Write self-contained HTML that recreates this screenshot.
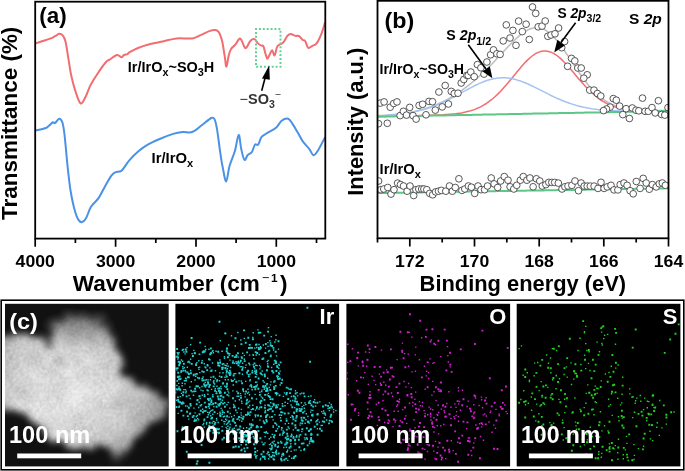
<!DOCTYPE html><html><head><meta charset="utf-8"><style>html,body{margin:0;padding:0;background:#fff;overflow:hidden}svg{display:block;will-change:transform}text{font-family:"Liberation Sans",sans-serif;font-weight:bold}</style></head><body><svg width="685" height="471" viewBox="0 0 685 471"><defs><clipPath id="ca"><rect x="35.2" y="1.7" width="290.1" height="236.9"/></clipPath><clipPath id="cb"><rect x="377.5" y="0.8" width="291" height="237.5"/></clipPath><clipPath id="cc"><rect x="5" y="303.8" width="163.7" height="162.6"/></clipPath><filter id="cloud" x="-15%" y="-15%" width="130%" height="130%"><feTurbulence type="fractalNoise" baseFrequency="0.09" numOctaves="3" seed="5" result="t"/><feDisplacementMap in="SourceGraphic" in2="t" scale="20" xChannelSelector="R" yChannelSelector="G" result="d"/><feGaussianBlur in="d" stdDeviation="3.9"/></filter><filter id="grain" x="0" y="0" width="100%" height="100%"><feTurbulence type="fractalNoise" baseFrequency="0.3" numOctaves="2" seed="9" result="n"/><feTurbulence type="fractalNoise" baseFrequency="0.045" numOctaves="2" seed="21" result="n2"/><feComposite in="n" in2="n2" operator="arithmetic" k1="0" k2="0.55" k3="0.6" k4="-0.05" result="nn"/><feColorMatrix in="nn" type="matrix" values="1 0 0 0 0  1 0 0 0 0  1 0 0 0 0  0 0 0 0 1" result="g"/><feComposite in="SourceGraphic" in2="g" operator="arithmetic" k1="0.75" k2="0.66" k3="0" k4="0"/></filter><radialGradient id="cg" gradientUnits="userSpaceOnUse" cx="65" cy="392" r="105"><stop offset="0" stop-color="#e4e4e4"/><stop offset="0.5" stop-color="#d0d0d0"/><stop offset="1" stop-color="#959595"/></radialGradient><linearGradient id="topdim" x1="0" y1="0" x2="0" y2="1"><stop offset="0.2" stop-color="#000" stop-opacity="0.5"/><stop offset="1" stop-color="#000" stop-opacity="0"/></linearGradient></defs><g clip-path="url(#ca)" fill="none" stroke-width="2" stroke-linejoin="round"><path d="M35.6 43.4 C37.1 42.9 42.1 41.3 44.5 40.5 C46.9 39.7 48.6 39.1 50.0 38.6 C51.4 38.1 52.1 37.8 53.1 37.3 C54.1 36.8 55.0 36.3 56.0 35.7 C57.0 35.1 57.8 33.9 58.9 33.8 C60.0 33.7 61.6 34.0 62.7 35.3 C63.8 36.6 64.5 37.6 65.5 41.5 C66.5 45.4 67.4 52.9 68.4 58.6 C69.4 64.3 70.0 70.1 71.3 75.8 C72.6 81.5 74.4 88.4 76.0 93.0 C77.6 97.6 79.2 102.9 80.8 103.5 C82.4 104.1 84.0 99.8 85.6 96.8 C87.2 93.8 88.3 89.4 90.4 85.4 C92.5 81.4 95.5 76.8 98.0 73.0 C100.5 69.2 103.6 64.8 105.6 62.5 C107.6 60.2 108.1 60.6 110.0 59.4 C111.9 58.1 115.1 55.4 117.0 55.0 C118.9 54.6 120.2 57.3 121.4 57.3 C122.6 57.3 123.0 55.5 124.0 55.0 C125.0 54.5 126.6 54.6 127.5 54.2 C128.4 53.8 127.6 53.4 129.3 52.4 C131.1 51.4 134.8 49.3 138.0 48.0 C141.2 46.7 144.4 45.6 148.5 44.5 C152.6 43.4 157.9 42.4 162.6 41.4 C167.3 40.4 171.6 38.9 176.6 38.4 C181.6 37.9 188.2 39.0 192.3 38.4 C196.4 37.8 198.2 36.1 201.1 34.9 C204.0 33.6 207.6 31.7 209.9 30.9 C212.2 30.1 213.7 29.9 215.1 30.0 C216.5 30.1 217.7 30.8 218.6 31.8 C219.5 32.8 220.0 34.2 220.6 36.0 C221.2 37.8 221.7 38.8 222.4 42.3 C223.1 45.8 224.1 52.7 224.8 56.8 C225.5 60.9 225.7 67.0 226.4 66.7 C227.1 66.4 228.0 58.1 228.8 55.1 C229.6 52.1 230.1 50.4 231.2 48.7 C232.3 47.0 234.0 46.4 235.3 44.7 C236.7 43.1 238.2 39.5 239.3 38.8 C240.4 38.1 240.8 39.2 241.7 40.7 C242.6 42.2 244.0 47.0 244.9 47.9 C245.8 48.8 246.4 47.5 247.3 46.3 C248.2 45.1 249.3 41.9 250.5 40.7 C251.7 39.5 253.3 38.7 254.5 39.1 C255.7 39.5 256.6 42.0 257.7 43.1 C258.8 44.2 260.1 45.0 261.0 45.5 C261.9 46.0 262.7 45.0 263.4 46.3 C264.1 47.6 264.7 51.4 265.4 53.5 C266.1 55.6 266.7 58.6 267.4 58.7 C268.1 58.8 269.0 55.7 269.8 54.3 C270.6 52.9 271.4 50.1 272.2 50.3 C273.0 50.5 273.8 56.0 274.6 55.5 C275.4 55.0 276.2 48.9 277.0 47.1 C277.8 45.3 278.3 45.5 279.4 44.7 C280.5 43.9 282.1 43.8 283.4 42.3 C284.7 40.8 286.2 37.3 287.4 35.9 C288.6 34.5 289.3 34.0 290.7 34.0 C292.1 34.0 294.2 35.6 295.5 35.9 C296.8 36.2 297.5 35.2 298.7 35.9 C299.9 36.6 301.6 39.0 302.7 39.9 C303.8 40.8 304.2 39.7 305.1 41.0 C306.0 42.3 307.1 47.1 308.3 47.9 C309.5 48.7 311.0 46.5 312.3 45.8 C313.6 45.1 314.9 45.5 316.4 43.6 C317.9 41.7 319.7 37.9 321.2 34.3 C322.7 30.7 324.5 24.2 325.2 22.2" stroke="#f26d70"/><path d="M35.6 130.6 C37.2 130.2 43.0 129.1 45.2 128.3 C47.4 127.5 47.7 126.8 49.0 125.8 C50.3 124.8 51.8 122.6 52.8 122.2 C53.8 121.8 54.0 123.6 54.9 123.2 C55.8 122.8 57.0 120.4 57.9 119.7 C58.8 119.0 59.2 118.4 60.0 118.9 C60.8 119.4 61.8 120.4 62.5 122.7 C63.2 125.0 63.7 128.2 64.3 132.9 C64.9 137.6 65.5 144.4 66.1 150.8 C66.7 157.2 67.3 164.3 68.1 171.1 C68.9 177.9 69.6 185.1 70.7 191.5 C71.8 197.9 73.2 204.7 74.5 209.4 C75.8 214.1 77.0 217.5 78.3 219.6 C79.6 221.7 80.8 222.3 82.1 222.1 C83.4 221.9 84.5 220.9 86.0 218.3 C87.5 215.8 88.9 210.2 91.0 206.8 C93.1 203.4 96.4 201.3 98.7 197.9 C101.0 194.5 102.9 190.1 105.0 186.4 C107.1 182.7 109.6 178.1 111.4 175.7 C113.2 173.3 114.0 172.9 115.7 172.1 C117.4 171.3 119.3 172.7 121.5 170.8 C123.7 168.9 126.2 163.9 129.1 160.6 C132.0 157.3 135.5 153.8 138.7 151.1 C141.9 148.4 144.7 146.4 148.2 144.4 C151.7 142.4 155.5 140.8 159.7 139.0 C163.8 137.2 169.3 135.1 173.1 133.9 C176.9 132.7 179.4 132.3 182.6 132.0 C185.8 131.7 189.0 133.1 192.2 132.0 C195.4 130.9 198.5 127.6 201.7 125.3 C204.9 123.0 209.1 119.0 211.3 118.0 C213.5 117.0 213.8 117.8 214.7 119.6 C215.6 121.4 216.1 124.0 217.0 129.1 C217.9 134.2 219.0 143.7 219.9 150.1 C220.8 156.5 221.6 162.1 222.7 167.3 C223.8 172.5 225.0 181.7 226.2 181.4 C227.3 181.2 228.1 170.9 229.6 165.8 C231.1 160.7 233.4 156.1 234.9 151.0 C236.4 145.9 237.6 135.4 238.7 135.0 C239.8 134.6 240.2 144.7 241.2 148.8 C242.1 153.0 243.3 158.8 244.4 159.9 C245.5 161.0 246.3 156.5 247.6 155.2 C248.8 153.9 250.7 153.8 251.9 152.0 C253.1 150.2 253.9 145.8 255.0 144.6 C256.1 143.4 257.1 145.8 258.2 144.6 C259.3 143.4 260.1 139.0 261.4 137.2 C262.6 135.4 264.1 135.1 265.7 134.0 C267.3 132.9 269.2 131.9 271.0 130.8 C272.8 129.7 274.5 129.3 276.3 127.6 C278.1 125.9 279.7 122.3 281.6 120.8 C283.6 119.3 286.2 118.3 288.0 118.7 C289.8 119.1 290.4 120.9 292.2 123.4 C294.0 126.0 296.8 131.0 298.6 134.0 C300.4 137.0 301.0 138.9 302.8 141.4 C304.6 143.9 307.4 146.5 309.2 148.8 C311.0 151.1 312.0 154.8 313.4 155.2 C314.8 155.6 315.8 154.0 317.7 151.0 C319.6 148.0 323.9 139.5 325.1 137.2" stroke="#4a92e6"/></g><rect x="256" y="29" width="24.5" height="37.8" fill="none" stroke="#66d196" stroke-width="2" stroke-dasharray="2 1.894" stroke-dashoffset="1"/><line x1="261.7" y1="90.7" x2="265.6" y2="76" stroke="#000" stroke-width="1.6"/><polygon points="269.2,65.6 262,78.6 269.8,79.8" fill="#000"/><rect x="35.2" y="1.7" width="290.1" height="236.9" fill="none" stroke="#000" stroke-width="1.8"/><path d="M35.2 238.6v8.2M75.4 238.6v4.5M115.6 238.6v8.2M155.8 238.6v4.5M196.0 238.6v8.2M236.1 238.6v4.5M276.3 238.6v8.2M316.5 238.6v4.5" stroke="#000" stroke-width="1.7"/><text transform="translate(35.20 266.90) scale(1.070 1)" font-size="16.5" text-anchor="middle">4000</text><text transform="translate(115.58 266.90) scale(1.070 1)" font-size="16.5" text-anchor="middle">3000</text><text transform="translate(195.96 266.90) scale(1.070 1)" font-size="16.5" text-anchor="middle">2000</text><text transform="translate(276.34 266.90) scale(1.070 1)" font-size="16.5" text-anchor="middle">1000</text><text transform="translate(72.80 291.30) scale(1.025 1)" font-size="22">Wavenumber (cm<tspan font-size="12.5" dy="-9" dx="1.8" font-weight="normal">&#8722;</tspan><tspan font-size="11.5" dx="1.9">1</tspan><tspan dy="9" dx="2.3">)</tspan></text><text transform="translate(17,123.3) rotate(-90) scale(1.02 1)" font-size="22" text-anchor="middle">Transmittance (%)</text><text transform="translate(39.20 23.00) scale(1.030 1)" font-size="21.8">(a)</text><text transform="translate(127.80 72.00) scale(1.035 1)" font-size="14">Ir/IrO<tspan font-size="10.5" dy="4.2">x</tspan><tspan dy="-4.2">~SO</tspan><tspan font-size="10.5" dy="4.2">3</tspan><tspan dy="-4.2">H</tspan></text><text transform="translate(151.60 162.90) scale(1.060 1)" font-size="14">Ir/IrO<tspan font-size="10.5" dy="4.2">x</tspan></text><text transform="translate(239.50 103.80)" font-size="14.5" fill="#333"><tspan font-weight="normal">&#8722;</tspan>SO<tspan font-size="10.5" dy="4.6">3</tspan><tspan font-size="10.5" dy="-10" font-weight="normal">&#8722;</tspan></text><g clip-path="url(#cb)"><g fill="none" stroke-width="1.5"><path d="M377.5 115.8 L379.5 115.6 L381.5 115.5 L383.5 115.4 L385.5 115.3 L387.5 115.1 L389.5 115.0 L391.5 114.8 L393.5 114.6 L395.5 114.4 L397.5 114.2 L399.5 114.0 L401.5 113.7 L403.5 113.5 L405.5 113.2 L407.5 112.8 L409.5 112.5 L411.5 112.1 L413.5 111.7 L415.5 111.3 L417.5 110.8 L419.5 110.3 L421.5 109.8 L423.5 109.3 L425.5 108.7 L427.5 108.0 L429.5 107.3 L431.5 106.6 L433.5 105.9 L435.5 105.1 L437.5 104.2 L439.5 103.3 L441.5 102.4 L443.5 101.4 L445.5 100.4 L447.5 99.3 L449.5 98.2 L451.5 97.0 L453.5 95.8 L455.5 94.6 L457.5 93.3 L459.5 92.0 L461.5 90.6 L463.5 89.2 L465.5 87.7 L467.5 86.2 L469.5 84.6 L471.5 83.0 L473.5 81.3 L475.5 79.6 L477.5 77.9 L479.5 76.1 L481.5 74.3 L483.5 72.4 L485.5 70.5 L487.5 68.5 L489.5 66.5 L491.5 64.4 L493.5 62.3 L495.5 60.2 L497.5 58.1 L499.5 55.9 L501.5 53.8 L503.5 51.6 L505.5 49.5 L507.5 47.3 L509.5 45.2 L511.5 43.2 L513.5 41.2 L515.5 39.2 L517.5 37.4 L519.5 35.7 L521.5 34.1 L523.5 32.6 L525.5 31.3 L527.5 30.2 L529.5 29.2 L531.5 28.5 L533.5 28.0 L535.5 27.7 L537.5 27.7 L539.5 28.0 L541.5 28.4 L543.5 29.2 L545.5 30.2 L547.5 31.5 L549.5 33.0 L551.5 34.8 L553.5 36.7 L555.5 38.9 L557.5 41.3 L559.5 43.9 L561.5 46.5 L563.5 49.3 L565.5 52.2 L567.5 55.2 L569.5 58.2 L571.5 61.3 L573.5 64.3 L575.5 67.3 L577.5 70.3 L579.5 73.2 L581.5 76.0 L583.5 78.8 L585.5 81.4 L587.5 84.0 L589.5 86.4 L591.5 88.7 L593.5 90.8 L595.5 92.8 L597.5 94.7 L599.5 96.4 L601.5 98.0 L603.5 99.5 L605.5 100.8 L607.5 102.0 L609.5 103.1 L611.5 104.1 L613.5 105.0 L615.5 105.8 L617.5 106.5 L619.5 107.1 L621.5 107.6 L623.5 108.1 L625.5 108.5 L627.5 108.9 L629.5 109.2 L631.5 109.4 L633.5 109.6 L635.5 109.8 L637.5 110.0 L639.5 110.1 L641.5 110.2 L643.5 110.3 L645.5 110.4 L647.5 110.4 L649.5 110.4 L651.5 110.5 L653.5 110.5 L655.5 110.5 L657.5 110.5 L659.5 110.5 L661.5 110.5 L663.5 110.5 L665.5 110.5 L667.5 110.4 L668.5 110.4" stroke="#bdbdbd"/><path d="M377.5 116.6 L379.5 116.5 L381.5 116.5 L383.5 116.4 L385.5 116.4 L387.5 116.3 L389.5 116.3 L391.5 116.3 L393.5 116.2 L395.5 116.2 L397.5 116.1 L399.5 116.1 L401.5 116.0 L403.5 116.0 L405.5 115.9 L407.5 115.9 L409.5 115.9 L411.5 115.8 L413.5 115.8 L415.5 115.7 L417.5 115.7 L419.5 115.6 L421.5 115.6 L423.5 115.5 L425.5 115.5 L427.5 115.4 L429.5 115.3 L431.5 115.3 L433.5 115.2 L435.5 115.1 L437.5 115.0 L439.5 115.0 L441.5 114.9 L443.5 114.8 L445.5 114.6 L447.5 114.5 L449.5 114.3 L451.5 114.2 L453.5 114.0 L455.5 113.8 L457.5 113.5 L459.5 113.2 L461.5 112.9 L463.5 112.5 L465.5 112.1 L467.5 111.6 L469.5 111.1 L471.5 110.5 L473.5 109.9 L475.5 109.1 L477.5 108.3 L479.5 107.4 L481.5 106.3 L483.5 105.2 L485.5 104.0 L487.5 102.7 L489.5 101.2 L491.5 99.7 L493.5 98.0 L495.5 96.2 L497.5 94.4 L499.5 92.4 L501.5 90.3 L503.5 88.1 L505.5 85.8 L507.5 83.5 L509.5 81.1 L511.5 78.7 L513.5 76.2 L515.5 73.7 L517.5 71.3 L519.5 68.9 L521.5 66.6 L523.5 64.3 L525.5 62.1 L527.5 60.1 L529.5 58.2 L531.5 56.5 L533.5 55.0 L535.5 53.7 L537.5 52.7 L539.5 51.9 L541.5 51.3 L543.5 51.0 L545.5 50.9 L547.5 51.2 L549.5 51.7 L551.5 52.4 L553.5 53.4 L555.5 54.6 L557.5 56.0 L559.5 57.6 L561.5 59.4 L563.5 61.4 L565.5 63.5 L567.5 65.7 L569.5 67.9 L571.5 70.2 L573.5 72.6 L575.5 75.0 L577.5 77.4 L579.5 79.7 L581.5 82.0 L583.5 84.3 L585.5 86.5 L587.5 88.6 L589.5 90.6 L591.5 92.5 L593.5 94.3 L595.5 96.0 L597.5 97.6 L599.5 99.1 L601.5 100.5 L603.5 101.7 L605.5 102.8 L607.5 103.9 L609.5 104.8 L611.5 105.7 L613.5 106.4 L615.5 107.1 L617.5 107.7 L619.5 108.2 L621.5 108.6 L623.5 109.0 L625.5 109.4 L627.5 109.6 L629.5 109.9 L631.5 110.1 L633.5 110.3 L635.5 110.4 L637.5 110.5 L639.5 110.6 L641.5 110.7 L643.5 110.8 L645.5 110.8 L647.5 110.8 L649.5 110.8 L651.5 110.9 L653.5 110.9 L655.5 110.9 L657.5 110.8 L659.5 110.8 L661.5 110.8 L663.5 110.8 L665.5 110.8 L667.5 110.7 L668.5 110.7" stroke="#f26d70"/><path d="M377.5 115.9 L379.5 115.8 L381.5 115.7 L383.5 115.6 L385.5 115.4 L387.5 115.3 L389.5 115.1 L391.5 115.0 L393.5 114.8 L395.5 114.6 L397.5 114.4 L399.5 114.2 L401.5 113.9 L403.5 113.7 L405.5 113.4 L407.5 113.1 L409.5 112.7 L411.5 112.4 L413.5 112.0 L415.5 111.5 L417.5 111.1 L419.5 110.6 L421.5 110.1 L423.5 109.5 L425.5 109.0 L427.5 108.3 L429.5 107.7 L431.5 107.0 L433.5 106.3 L435.5 105.5 L437.5 104.7 L439.5 103.8 L441.5 103.0 L443.5 102.1 L445.5 101.1 L447.5 100.1 L449.5 99.1 L451.5 98.1 L453.5 97.1 L455.5 96.0 L457.5 94.9 L459.5 93.8 L461.5 92.7 L463.5 91.6 L465.5 90.6 L467.5 89.5 L469.5 88.4 L471.5 87.3 L473.5 86.3 L475.5 85.3 L477.5 84.4 L479.5 83.4 L481.5 82.6 L483.5 81.8 L485.5 81.0 L487.5 80.3 L489.5 79.7 L491.5 79.2 L493.5 78.7 L495.5 78.4 L497.5 78.1 L499.5 77.9 L501.5 77.8 L503.5 77.8 L505.5 77.8 L507.5 78.0 L509.5 78.2 L511.5 78.6 L513.5 79.0 L515.5 79.5 L517.5 80.1 L519.5 80.7 L521.5 81.4 L523.5 82.2 L525.5 83.0 L527.5 83.8 L529.5 84.7 L531.5 85.7 L533.5 86.6 L535.5 87.6 L537.5 88.6 L539.5 89.6 L541.5 90.6 L543.5 91.7 L545.5 92.7 L547.5 93.7 L549.5 94.7 L551.5 95.7 L553.5 96.6 L555.5 97.6 L557.5 98.5 L559.5 99.3 L561.5 100.2 L563.5 101.0 L565.5 101.8 L567.5 102.5 L569.5 103.2 L571.5 103.9 L573.5 104.5 L575.5 105.1 L577.5 105.7 L579.5 106.2 L581.5 106.7 L583.5 107.2 L585.5 107.6 L587.5 108.0 L589.5 108.3 L591.5 108.7 L593.5 109.0 L595.5 109.2 L597.5 109.5 L599.5 109.7 L601.5 109.9 L603.5 110.1 L605.5 110.2 L607.5 110.4 L609.5 110.5 L611.5 110.6 L613.5 110.7 L615.5 110.8 L617.5 110.8 L619.5 110.9 L621.5 110.9 L623.5 111.0 L625.5 111.0 L627.5 111.0 L629.5 111.0 L631.5 111.1 L633.5 111.1 L635.5 111.1 L637.5 111.1 L639.5 111.0 L641.5 111.0 L643.5 111.0 L645.5 111.0 L647.5 111.0 L649.5 111.0 L651.5 110.9 L653.5 110.9 L655.5 110.9 L657.5 110.9 L659.5 110.8 L661.5 110.8 L663.5 110.8 L665.5 110.8 L667.5 110.7 L668.5 110.7" stroke="#a3c3f0"/><path d="M377.5 116.7 L379.5 116.7 L381.5 116.6 L383.5 116.6 L385.5 116.5 L387.5 116.5 L389.5 116.5 L391.5 116.4 L393.5 116.4 L395.5 116.3 L397.5 116.3 L399.5 116.3 L401.5 116.2 L403.5 116.2 L405.5 116.2 L407.5 116.1 L409.5 116.1 L411.5 116.0 L413.5 116.0 L415.5 116.0 L417.5 115.9 L419.5 115.9 L421.5 115.8 L423.5 115.8 L425.5 115.8 L427.5 115.7 L429.5 115.7 L431.5 115.6 L433.5 115.6 L435.5 115.6 L437.5 115.5 L439.5 115.5 L441.5 115.4 L443.5 115.4 L445.5 115.4 L447.5 115.3 L449.5 115.3 L451.5 115.3 L453.5 115.2 L455.5 115.2 L457.5 115.1 L459.5 115.1 L461.5 115.1 L463.5 115.0 L465.5 115.0 L467.5 114.9 L469.5 114.9 L471.5 114.9 L473.5 114.8 L475.5 114.8 L477.5 114.7 L479.5 114.7 L481.5 114.7 L483.5 114.6 L485.5 114.6 L487.5 114.5 L489.5 114.5 L491.5 114.5 L493.5 114.4 L495.5 114.4 L497.5 114.3 L499.5 114.3 L501.5 114.3 L503.5 114.2 L505.5 114.2 L507.5 114.2 L509.5 114.1 L511.5 114.1 L513.5 114.0 L515.5 114.0 L517.5 114.0 L519.5 113.9 L521.5 113.9 L523.5 113.8 L525.5 113.8 L527.5 113.8 L529.5 113.7 L531.5 113.7 L533.5 113.6 L535.5 113.6 L537.5 113.6 L539.5 113.5 L541.5 113.5 L543.5 113.4 L545.5 113.4 L547.5 113.4 L549.5 113.3 L551.5 113.3 L553.5 113.3 L555.5 113.2 L557.5 113.2 L559.5 113.1 L561.5 113.1 L563.5 113.1 L565.5 113.0 L567.5 113.0 L569.5 112.9 L571.5 112.9 L573.5 112.9 L575.5 112.8 L577.5 112.8 L579.5 112.7 L581.5 112.7 L583.5 112.7 L585.5 112.6 L587.5 112.6 L589.5 112.5 L591.5 112.5 L593.5 112.5 L595.5 112.4 L597.5 112.4 L599.5 112.4 L601.5 112.3 L603.5 112.3 L605.5 112.2 L607.5 112.2 L609.5 112.2 L611.5 112.1 L613.5 112.1 L615.5 112.0 L617.5 112.0 L619.5 112.0 L621.5 111.9 L623.5 111.9 L625.5 111.8 L627.5 111.8 L629.5 111.8 L631.5 111.7 L633.5 111.7 L635.5 111.6 L637.5 111.6 L639.5 111.6 L641.5 111.5 L643.5 111.5 L645.5 111.5 L647.5 111.4 L649.5 111.4 L651.5 111.3 L653.5 111.3 L655.5 111.3 L657.5 111.2 L659.5 111.2 L661.5 111.1 L663.5 111.1 L665.5 111.1 L667.5 111.0 L668.5 111.0" stroke="#5cc886" stroke-width="2"/><path d="M377.5 193.1 L379.5 193.1 L381.5 193.0 L383.5 193.0 L385.5 193.0 L387.5 192.9 L389.5 192.9 L391.5 192.9 L393.5 192.8 L395.5 192.8 L397.5 192.8 L399.5 192.7 L401.5 192.7 L403.5 192.7 L405.5 192.6 L407.5 192.6 L409.5 192.6 L411.5 192.5 L413.5 192.5 L415.5 192.5 L417.5 192.4 L419.5 192.4 L421.5 192.4 L423.5 192.3 L425.5 192.3 L427.5 192.3 L429.5 192.2 L431.5 192.2 L433.5 192.2 L435.5 192.1 L437.5 192.1 L439.5 192.1 L441.5 192.0 L443.5 192.0 L445.5 192.0 L447.5 191.9 L449.5 191.9 L451.5 191.9 L453.5 191.8 L455.5 191.8 L457.5 191.8 L459.5 191.7 L461.5 191.7 L463.5 191.7 L465.5 191.6 L467.5 191.6 L469.5 191.6 L471.5 191.5 L473.5 191.5 L475.5 191.5 L477.5 191.5 L479.5 191.4 L481.5 191.4 L483.5 191.4 L485.5 191.3 L487.5 191.3 L489.5 191.3 L491.5 191.2 L493.5 191.2 L495.5 191.2 L497.5 191.1 L499.5 191.1 L501.5 191.1 L503.5 191.0 L505.5 191.0 L507.5 191.0 L509.5 190.9 L511.5 190.9 L513.5 190.9 L515.5 190.8 L517.5 190.8 L519.5 190.8 L521.5 190.7 L523.5 190.7 L525.5 190.7 L527.5 190.6 L529.5 190.6 L531.5 190.6 L533.5 190.5 L535.5 190.5 L537.5 190.5 L539.5 190.4 L541.5 190.4 L543.5 190.4 L545.5 190.3 L547.5 190.3 L549.5 190.3 L551.5 190.2 L553.5 190.2 L555.5 190.2 L557.5 190.1 L559.5 190.1 L561.5 190.1 L563.5 190.0 L565.5 190.0 L567.5 190.0 L569.5 189.9 L571.5 189.9 L573.5 189.9 L575.5 189.8 L577.5 189.8 L579.5 189.8 L581.5 189.7 L583.5 189.7 L585.5 189.7 L587.5 189.6 L589.5 189.6 L591.5 189.6 L593.5 189.5 L595.5 189.5 L597.5 189.5 L599.5 189.4 L601.5 189.4 L603.5 189.4 L605.5 189.3 L607.5 189.3 L609.5 189.3 L611.5 189.2 L613.5 189.2 L615.5 189.2 L617.5 189.1 L619.5 189.1 L621.5 189.1 L623.5 189.0 L625.5 189.0 L627.5 189.0 L629.5 188.9 L631.5 188.9 L633.5 188.9 L635.5 188.8 L637.5 188.8 L639.5 188.8 L641.5 188.7 L643.5 188.7 L645.5 188.7 L647.5 188.6 L649.5 188.6 L651.5 188.6 L653.5 188.5 L655.5 188.5 L657.5 188.5 L659.5 188.4 L661.5 188.4 L663.5 188.4 L665.5 188.3 L667.5 188.3 L668.5 188.3" stroke="#5cc886" stroke-width="2"/></g><g fill="#fff" stroke="#3a3a3a" stroke-width="0.85"><circle cx="380.3" cy="103.1" r="3.35"/><circle cx="384.1" cy="101.9" r="3.35"/><circle cx="390.2" cy="107.2" r="3.35"/><circle cx="393.7" cy="103.5" r="3.35"/><circle cx="397.0" cy="101.9" r="3.35"/><circle cx="400.1" cy="115.6" r="3.35"/><circle cx="403.4" cy="111.3" r="3.35"/><circle cx="406.5" cy="115.1" r="3.35"/><circle cx="409.7" cy="107.4" r="3.35"/><circle cx="413.0" cy="115.6" r="3.35"/><circle cx="416.1" cy="119.1" r="3.35"/><circle cx="419.1" cy="105.4" r="3.35"/><circle cx="422.6" cy="104.3" r="3.35"/><circle cx="426.0" cy="114.8" r="3.35"/><circle cx="429.0" cy="101.4" r="3.35"/><circle cx="432.5" cy="101.7" r="3.35"/><circle cx="435.3" cy="110.1" r="3.35"/><circle cx="438.9" cy="92.0" r="3.35"/><circle cx="442.2" cy="106.9" r="3.35"/><circle cx="445.2" cy="85.5" r="3.35"/><circle cx="448.4" cy="104.0" r="3.35"/><circle cx="451.3" cy="91.4" r="3.35"/><circle cx="454.3" cy="93.5" r="3.35"/><circle cx="458.0" cy="93.2" r="3.35"/><circle cx="378.5" cy="123.7" r="3.35"/><circle cx="387.3" cy="123.3" r="3.35"/><circle cx="461.2" cy="83.0" r="3.35"/><circle cx="463.8" cy="79.5" r="3.35"/><circle cx="466.8" cy="75.4" r="3.35"/><circle cx="468.2" cy="75.4" r="3.35"/><circle cx="470.8" cy="72.0" r="3.35"/><circle cx="474.2" cy="76.7" r="3.35"/><circle cx="477.4" cy="64.6" r="3.35"/><circle cx="480.9" cy="67.8" r="3.35"/><circle cx="484.0" cy="74.1" r="3.35"/><circle cx="486.9" cy="62.0" r="3.35"/><circle cx="490.6" cy="54.8" r="3.35"/><circle cx="493.5" cy="49.9" r="3.35"/><circle cx="496.9" cy="53.8" r="3.35"/><circle cx="500.1" cy="54.4" r="3.35"/><circle cx="506.3" cy="24.9" r="3.35"/><circle cx="512.9" cy="30.4" r="3.35"/><circle cx="518.6" cy="21.1" r="3.35"/><circle cx="510.0" cy="38.0" r="3.35"/><circle cx="503.2" cy="40.9" r="3.35"/><circle cx="516.0" cy="45.3" r="3.35"/><circle cx="526.1" cy="24.2" r="3.35"/><circle cx="522.3" cy="31.6" r="3.35"/><circle cx="529.3" cy="39.5" r="3.35"/><circle cx="532.5" cy="7.0" r="3.35"/><circle cx="535.7" cy="13.4" r="3.35"/><circle cx="538.2" cy="26.8" r="3.35"/><circle cx="542.0" cy="26.1" r="3.35"/><circle cx="545.2" cy="21.0" r="3.35"/><circle cx="547.8" cy="36.3" r="3.35"/><circle cx="551.0" cy="35.0" r="3.35"/><circle cx="555.0" cy="33.8" r="3.35"/><circle cx="558.6" cy="28.0" r="3.35"/><circle cx="564.6" cy="41.5" r="3.35"/><circle cx="561.7" cy="47.7" r="3.35"/><circle cx="571.5" cy="58.4" r="3.35"/><circle cx="574.8" cy="60.9" r="3.35"/><circle cx="567.6" cy="66.3" r="3.35"/><circle cx="577.8" cy="68.0" r="3.35"/><circle cx="581.2" cy="68.0" r="3.35"/><circle cx="587.2" cy="74.8" r="3.35"/><circle cx="583.8" cy="78.2" r="3.35"/><circle cx="589.7" cy="90.1" r="3.35"/><circle cx="594.0" cy="90.1" r="3.35"/><circle cx="597.4" cy="93.5" r="3.35"/><circle cx="600.8" cy="96.0" r="3.35"/><circle cx="613.3" cy="98.6" r="3.35"/><circle cx="616.3" cy="100.2" r="3.35"/><circle cx="619.6" cy="106.1" r="3.35"/><circle cx="610.1" cy="107.1" r="3.35"/><circle cx="606.5" cy="109.0" r="3.35"/><circle cx="603.5" cy="110.6" r="3.35"/><circle cx="626.1" cy="108.7" r="3.35"/><circle cx="622.8" cy="114.6" r="3.35"/><circle cx="629.4" cy="118.5" r="3.35"/><circle cx="632.3" cy="108.0" r="3.35"/><circle cx="636.0" cy="110.2" r="3.35"/><circle cx="638.8" cy="110.8" r="3.35"/><circle cx="642.5" cy="98.1" r="3.35"/><circle cx="645.1" cy="111.3" r="3.35"/><circle cx="648.3" cy="111.3" r="3.35"/><circle cx="652.0" cy="107.6" r="3.35"/><circle cx="655.2" cy="112.9" r="3.35"/><circle cx="658.4" cy="100.7" r="3.35"/><circle cx="661.6" cy="114.5" r="3.35"/><circle cx="664.8" cy="115.1" r="3.35"/><circle cx="668.0" cy="107.6" r="3.35"/><circle cx="378.6" cy="181.0" r="3.35"/><circle cx="380.8" cy="189.7" r="3.35"/><circle cx="383.8" cy="189.0" r="3.35"/><circle cx="387.8" cy="187.5" r="3.35"/><circle cx="391.0" cy="194.1" r="3.35"/><circle cx="394.0" cy="189.7" r="3.35"/><circle cx="397.6" cy="183.1" r="3.35"/><circle cx="400.5" cy="184.6" r="3.35"/><circle cx="403.5" cy="186.0" r="3.35"/><circle cx="407.1" cy="191.2" r="3.35"/><circle cx="410.0" cy="186.0" r="3.35"/><circle cx="413.7" cy="195.5" r="3.35"/><circle cx="415.9" cy="189.7" r="3.35"/><circle cx="418.8" cy="189.0" r="3.35"/><circle cx="421.7" cy="189.0" r="3.35"/><circle cx="423.9" cy="189.0" r="3.35"/><circle cx="426.8" cy="189.7" r="3.35"/><circle cx="429.7" cy="193.4" r="3.35"/><circle cx="432.7" cy="194.8" r="3.35"/><circle cx="435.6" cy="191.9" r="3.35"/><circle cx="438.5" cy="191.2" r="3.35"/><circle cx="441.4" cy="190.4" r="3.35"/><circle cx="445.8" cy="191.2" r="3.35"/><circle cx="449.5" cy="186.0" r="3.35"/><circle cx="452.4" cy="191.2" r="3.35"/><circle cx="455.3" cy="187.5" r="3.35"/><circle cx="458.9" cy="178.8" r="3.35"/><circle cx="461.9" cy="190.4" r="3.35"/><circle cx="464.8" cy="189.0" r="3.35"/><circle cx="468.4" cy="186.0" r="3.35"/><circle cx="471.4" cy="187.2" r="3.35"/><circle cx="474.7" cy="193.4" r="3.35"/><circle cx="478.0" cy="186.0" r="3.35"/><circle cx="481.0" cy="189.7" r="3.35"/><circle cx="484.6" cy="189.7" r="3.35"/><circle cx="487.5" cy="186.0" r="3.35"/><circle cx="491.2" cy="178.0" r="3.35"/><circle cx="494.1" cy="183.9" r="3.35"/><circle cx="497.7" cy="187.5" r="3.35"/><circle cx="500.7" cy="181.0" r="3.35"/><circle cx="504.3" cy="176.6" r="3.35"/><circle cx="508.0" cy="180.2" r="3.35"/><circle cx="510.1" cy="186.8" r="3.35"/><circle cx="513.8" cy="189.0" r="3.35"/><circle cx="516.7" cy="185.3" r="3.35"/><circle cx="520.4" cy="180.2" r="3.35"/><circle cx="523.3" cy="176.6" r="3.35"/><circle cx="526.9" cy="180.2" r="3.35"/><circle cx="529.9" cy="178.0" r="3.35"/><circle cx="533.1" cy="186.8" r="3.35"/><circle cx="536.4" cy="178.8" r="3.35"/><circle cx="539.8" cy="181.0" r="3.35"/><circle cx="542.3" cy="186.0" r="3.35"/><circle cx="545.9" cy="184.6" r="3.35"/><circle cx="548.8" cy="182.4" r="3.35"/><circle cx="551.8" cy="182.4" r="3.35"/><circle cx="554.7" cy="182.4" r="3.35"/><circle cx="558.3" cy="183.1" r="3.35"/><circle cx="562.0" cy="189.0" r="3.35"/><circle cx="564.9" cy="186.8" r="3.35"/><circle cx="568.0" cy="186.0" r="3.35"/><circle cx="571.9" cy="185.3" r="3.35"/><circle cx="575.0" cy="181.0" r="3.35"/><circle cx="578.5" cy="190.7" r="3.35"/><circle cx="581.1" cy="183.0" r="3.35"/><circle cx="584.2" cy="186.1" r="3.35"/><circle cx="587.2" cy="186.1" r="3.35"/><circle cx="590.3" cy="186.1" r="3.35"/><circle cx="594.1" cy="186.1" r="3.35"/><circle cx="598.0" cy="188.4" r="3.35"/><circle cx="601.0" cy="182.3" r="3.35"/><circle cx="604.1" cy="188.4" r="3.35"/><circle cx="607.2" cy="186.9" r="3.35"/><circle cx="611.0" cy="185.3" r="3.35"/><circle cx="614.0" cy="189.9" r="3.35"/><circle cx="617.9" cy="189.9" r="3.35"/><circle cx="620.2" cy="184.6" r="3.35"/><circle cx="624.0" cy="183.0" r="3.35"/><circle cx="627.1" cy="185.3" r="3.35"/><circle cx="630.1" cy="190.7" r="3.35"/><circle cx="633.2" cy="193.8" r="3.35"/><circle cx="636.3" cy="181.5" r="3.35"/><circle cx="640.1" cy="188.4" r="3.35"/><circle cx="643.2" cy="178.4" r="3.35"/><circle cx="646.2" cy="183.0" r="3.35"/><circle cx="649.3" cy="189.2" r="3.35"/><circle cx="652.4" cy="184.6" r="3.35"/><circle cx="656.2" cy="186.9" r="3.35"/><circle cx="659.3" cy="183.8" r="3.35"/><circle cx="662.3" cy="183.0" r="3.35"/><circle cx="665.4" cy="185.3" r="3.35"/></g></g><rect x="377.5" y="0.8" width="291" height="237.5" fill="none" stroke="#000" stroke-width="1.8"/><path d="M377.5 238.3v4.2M409.8 238.3v8.2M442.2 238.3v4.2M474.5 238.3v8.2M506.8 238.3v4.2M539.2 238.3v8.2M571.5 238.3v4.2M603.8 238.3v8.2M636.2 238.3v4.2M668.5 238.3v8.2" stroke="#000" stroke-width="1.7"/><text transform="translate(409.83 266.90) scale(1.070 1)" font-size="16.5" text-anchor="middle">172</text><text transform="translate(474.50 266.90) scale(1.070 1)" font-size="16.5" text-anchor="middle">170</text><text transform="translate(539.17 266.90) scale(1.070 1)" font-size="16.5" text-anchor="middle">168</text><text transform="translate(603.83 266.90) scale(1.070 1)" font-size="16.5" text-anchor="middle">166</text><text transform="translate(668.50 266.90) scale(1.070 1)" font-size="16.5" text-anchor="middle">164</text><text transform="translate(522.80 291.00) scale(1.017 1)" font-size="21.5" text-anchor="middle">Binding energy (eV)</text><text transform="translate(362.7,121.8) rotate(-90) scale(1.02 1)" font-size="21.4" text-anchor="middle">Intensity (a.u.)</text><text transform="translate(384.60 28.40) scale(1.030 1)" font-size="22.6">(b)</text><text transform="translate(379.60 74.00) scale(1.010 1)" font-size="14">Ir/IrO<tspan font-size="10.5" dy="4.2">x</tspan><tspan dy="-4.2">~SO</tspan><tspan font-size="10.5" dy="4.2">3</tspan><tspan dy="-4.2">H</tspan></text><text transform="translate(379.60 173.80) scale(1.050 1)" font-size="14">Ir/IrO<tspan font-size="10.5" dy="4.2">x</tspan></text><text transform="translate(446.30 40.40) scale(1.030 1)" font-size="13.8">S <tspan font-style="italic">2p</tspan><tspan font-size="10.5" dy="4.2">1/2</tspan></text><text transform="translate(557.40 18.10)" font-size="13.8">S <tspan font-style="italic">2p</tspan><tspan font-size="10.5" dy="4.2">3/2</tspan></text><text transform="translate(629.00 23.60)" font-size="15.5">S <tspan font-style="italic">2p</tspan></text><line x1="468.3" y1="44.8" x2="486" y2="69" stroke="#000" stroke-width="1.6"/><polygon points="492.4,78.2 482.6,71.5 489.8,66.3" fill="#000"/><line x1="575.6" y1="22.8" x2="561" y2="42.5" stroke="#000" stroke-width="1.6"/><polygon points="554.2,52.6 557.4,39.8 564.8,45.4" fill="#000"/><rect x="1.2" y="300.2" width="682.6" height="169.6" fill="#fff" stroke="#000" stroke-width="1.6"/><rect x="5" y="303.8" width="163.7" height="162.6" fill="#111"/><mask id="cm" maskUnits="userSpaceOnUse" x="5" y="303.8" width="163.7" height="162.6"><g filter="url(#cloud)"><polygon points="5.0,334.0 20.0,335.0 35.0,337.8 42.0,340.0 46.0,345.0 50.0,340.0 51.0,330.0 54.3,324.0 62.0,318.0 74.3,315.0 85.3,317.7 97.8,318.6 105.0,325.9 112.4,340.5 117.0,351.4 121.5,358.7 124.2,373.3 132.0,381.0 146.0,387.4 157.0,391.0 166.3,398.5 169.0,404.0 162.6,415.0 153.4,422.5 146.0,428.0 138.6,437.3 131.2,444.7 123.8,448.4 118.3,451.2 109.0,448.4 99.8,446.5 90.0,444.7 85.0,444.0 69.7,448.4 56.8,441.0 42.0,428.0 23.5,417.0 5.0,407.7 -5.0,407.0 -5.0,334.0" fill="#fff"/><ellipse cx="57" cy="359" rx="3.5" ry="5" fill="#000" opacity="0.55"/><ellipse cx="49" cy="343" rx="5" ry="6" fill="#000" opacity="0.5"/><rect x="40" y="300" width="80" height="50" fill="url(#topdim)"/><ellipse cx="118" cy="456" rx="9" ry="6" fill="#fff" opacity="0.3"/></g></mask><rect x="5" y="303.8" width="163.7" height="162.6" fill="url(#cg)" filter="url(#grain)" mask="url(#cm)"/><rect x="175.4" y="303.8" width="163.7" height="162.6" fill="#000"/><path d="M249.5 394.8h0M251.6 386.3h0M205.6 387.0h0M307.9 416.5h0M282.4 403.8h0M177.9 389.7h0M180.3 379.2h0M280.2 385.0h0M213.0 350.8h0M187.4 406.1h0M204.5 394.7h0M206.6 422.7h0M244.3 338.4h0M209.9 367.9h0M217.7 429.4h0M190.2 398.5h0M273.8 364.2h0M269.5 444.6h0M206.5 424.0h0M319.8 401.9h0M310.2 400.7h0M204.1 420.9h0M212.8 394.7h0M219.5 376.2h0M204.3 363.7h0M196.9 362.6h0M335.9 410.6h0M324.4 417.7h0M178.9 407.2h0M264.8 423.6h0M296.1 418.1h0M287.6 450.2h0M243.7 432.3h0M269.2 405.4h0M270.8 402.7h0M319.4 422.1h0M295.7 398.2h0M273.8 382.0h0M276.0 453.4h0M177.3 352.7h0M323.7 411.0h0M245.9 434.8h0M270.9 355.2h0M256.7 439.8h0M291.8 458.2h0M203.1 377.0h0M210.4 371.1h0M256.2 355.0h0M291.4 396.5h0M197.6 377.7h0M278.4 376.4h0M282.6 435.0h0M253.2 332.8h0M252.7 419.9h0M220.0 360.0h0M260.6 403.6h0M239.8 432.5h0M249.6 405.5h0M237.1 396.2h0M251.3 409.6h0M293.6 436.8h0M247.6 393.2h0M230.2 431.8h0M199.7 387.7h0M312.9 415.8h0M256.0 458.0h0M211.6 389.4h0M294.7 407.6h0M226.4 365.7h0M261.2 396.9h0M263.1 385.6h0M259.9 368.9h0M267.5 383.6h0M186.2 391.3h0M219.5 380.7h0M246.4 436.4h0M253.4 355.3h0M276.5 454.2h0M233.6 404.5h0M259.0 344.5h0M262.2 374.8h0M243.1 389.8h0M208.8 406.4h0M262.1 442.1h0M296.7 435.5h0M214.6 421.9h0M244.4 432.2h0M241.3 415.1h0M208.3 414.7h0M258.2 427.0h0M181.5 393.4h0M268.5 327.6h0M251.8 387.5h0M290.2 441.0h0M249.7 423.9h0M290.8 443.7h0M241.6 401.2h0M297.3 430.2h0M241.8 449.5h0M289.1 428.5h0M241.8 421.2h0M231.3 380.0h0M233.6 407.6h0M283.4 396.4h0M280.5 417.8h0M276.1 423.9h0M207.4 364.8h0M265.4 386.3h0M279.8 435.3h0M273.2 427.2h0M261.6 400.9h0M222.2 410.3h0M221.8 420.2h0M322.3 425.4h0M245.7 381.4h0M215.3 388.8h0M277.6 377.8h0M183.9 389.6h0M247.9 412.3h0M218.3 398.4h0M303.8 405.4h0M219.8 415.1h0M272.3 406.7h0M219.8 372.9h0M192.2 391.8h0M189.6 413.7h0M278.7 364.4h0M209.9 359.7h0M277.5 428.7h0M235.8 410.0h0M228.7 392.9h0M189.0 395.5h0M210.3 411.4h0M225.1 421.6h0M234.0 421.8h0M194.6 419.1h0M227.4 368.7h0M234.6 363.2h0M240.2 366.8h0M267.7 433.3h0M204.3 427.1h0M259.8 392.2h0M333.6 409.6h0M185.9 392.7h0M296.1 449.9h0M297.5 409.3h0M211.5 428.2h0M263.4 421.0h0M310.7 412.1h0M307.3 439.3h0M332.2 407.8h0M291.6 434.2h0M185.1 353.9h0M281.5 429.9h0M185.6 378.3h0M292.8 400.5h0M205.7 349.5h0M265.1 436.6h0M265.0 459.3h0M177.2 380.6h0M305.8 419.7h0M259.9 407.3h0M219.0 390.7h0M309.9 441.3h0M191.3 381.8h0M264.3 389.2h0M225.4 379.7h0M234.3 415.5h0M311.2 410.1h0M237.1 419.2h0M267.7 378.2h0M209.2 403.9h0M236.9 391.5h0M230.6 367.5h0M286.3 418.9h0M241.3 439.8h0M259.1 409.0h0M229.7 370.8h0M241.0 417.5h0M304.7 411.1h0M178.4 357.6h0M310.5 403.2h0M300.9 450.5h0M233.1 385.1h0M259.9 420.1h0M269.8 417.1h0M267.2 394.9h0M309.2 401.5h0M269.3 438.8h0M285.3 423.7h0M272.3 434.4h0M208.1 379.9h0M238.7 396.3h0M260.5 346.6h0M229.8 408.1h0M252.3 370.7h0M288.2 427.0h0M242.4 374.3h0M261.3 374.0h0M294.2 450.1h0M273.2 426.0h0M195.8 376.4h0M289.2 389.3h0M225.5 368.1h0M333.6 412.0h0M244.4 434.7h0M297.6 395.9h0M195.7 391.2h0M224.4 356.6h0M240.4 361.7h0M257.0 455.6h0M252.8 337.4h0M233.4 380.6h0M208.5 406.6h0M317.8 419.7h0M289.3 456.2h0M225.7 419.3h0M284.2 432.3h0M283.8 447.5h0M261.9 390.1h0M273.6 350.0h0M222.1 426.6h0M221.1 392.9h0M180.9 378.8h0M283.2 431.0h0M258.2 441.2h0M260.6 458.4h0M274.9 342.0h0M301.9 431.6h0M214.0 383.3h0M270.4 384.9h0M273.1 419.9h0M256.6 374.4h0M218.4 433.6h0M264.3 432.4h0M199.3 354.3h0M226.9 404.7h0M218.7 399.5h0M288.5 438.8h0M185.4 370.5h0M182.3 383.3h0M249.9 424.9h0M198.6 367.6h0M300.3 423.1h0M216.9 393.5h0M251.0 455.3h0M241.4 409.4h0M231.6 416.7h0M272.1 447.8h0M239.7 440.8h0M210.5 379.8h0M286.6 444.0h0M205.2 346.4h0M326.6 420.0h0M234.3 428.2h0M228.1 366.3h0M184.4 367.8h0M226.5 372.7h0M197.7 418.6h0M294.2 412.1h0M208.9 349.4h0M241.7 366.6h0M212.4 351.3h0M179.4 406.2h0M224.2 412.8h0M210.8 415.8h0M213.8 406.6h0M245.4 367.6h0M238.2 357.1h0M241.3 381.0h0M190.6 359.3h0M200.1 398.5h0M266.0 417.6h0M239.5 363.0h0M256.5 399.0h0M228.7 345.0h0M268.0 346.4h0M205.8 380.1h0M269.7 456.9h0M278.1 404.7h0M197.6 386.2h0M212.8 414.3h0M175.6 392.2h0M214.6 384.0h0M265.1 405.3h0M230.0 360.1h0M226.7 420.1h0M287.8 460.4h0M201.5 404.8h0M267.7 363.8h0M249.3 429.3h0M217.0 386.3h0M239.6 420.1h0M230.0 427.2h0M311.0 396.0h0M291.1 405.0h0M237.1 412.6h0M271.3 456.7h0M197.3 415.5h0M278.8 368.3h0M182.3 350.3h0M264.2 382.3h0M226.0 433.9h0M221.8 367.4h0M239.1 416.6h0M220.3 340.8h0M235.3 346.0h0M205.3 382.4h0M254.7 371.2h0M265.5 410.5h0M248.0 439.3h0M187.6 362.1h0M226.1 387.4h0M177.2 389.5h0M305.1 423.3h0M306.9 438.3h0M269.8 340.7h0M235.9 410.6h0M235.1 407.5h0M230.2 424.3h0M297.1 392.6h0M198.8 360.7h0M176.9 385.5h0M228.0 391.1h0M227.9 426.3h0M242.2 418.5h0M220.2 413.8h0M279.3 365.2h0M210.2 403.9h0M315.6 406.0h0M312.5 415.9h0M269.2 387.5h0M278.1 376.4h0M272.7 455.2h0M241.2 444.8h0M281.7 456.2h0M317.8 419.4h0M263.2 444.5h0M221.2 408.4h0M266.3 431.7h0M215.0 433.8h0M301.6 393.1h0M181.4 360.0h0M205.1 367.0h0M276.4 450.3h0M278.4 446.2h0M207.7 412.4h0M177.9 359.0h0M278.5 349.1h0M196.4 416.5h0M329.4 402.9h0M288.6 423.4h0M226.2 370.1h0M278.7 372.8h0M297.1 401.5h0M185.9 371.9h0M223.4 416.7h0M215.5 370.7h0M244.3 359.3h0M314.6 399.8h0M189.9 362.9h0M293.8 412.5h0M179.2 406.7h0M234.6 379.3h0M285.2 402.2h0M240.1 438.5h0M186.3 378.9h0M202.7 409.3h0M308.2 422.6h0M195.0 380.0h0M232.9 390.9h0M224.8 386.2h0M189.9 387.0h0M211.0 377.2h0M250.6 442.0h0M241.9 403.3h0M309.4 423.1h0M201.0 390.1h0M280.7 441.5h0M255.4 410.1h0M257.4 450.7h0M224.4 423.9h0M235.6 373.6h0M234.1 373.8h0M185.5 389.6h0M240.8 340.0h0M236.3 354.9h0M213.1 425.6h0M176.9 369.9h0M176.6 400.2h0M235.3 401.0h0M224.7 402.8h0M227.0 384.7h0M190.6 344.7h0M222.2 414.3h0M229.1 355.4h0M304.4 408.2h0M277.7 393.5h0M248.7 374.8h0M227.8 423.2h0M284.5 392.9h0M267.1 453.7h0M243.3 391.0h0M246.1 365.1h0M271.3 336.6h0M202.2 360.6h0M260.5 366.9h0M271.0 381.9h0M229.1 417.1h0M218.2 422.5h0M276.5 394.7h0M192.1 353.6h0M268.4 393.4h0M300.6 434.7h0M208.0 390.7h0M270.7 449.9h0M331.1 420.6h0M315.8 421.9h0M263.3 345.0h0M254.8 348.1h0M220.8 386.5h0M315.3 402.8h0M295.5 390.7h0M249.5 364.0h0M268.1 360.5h0M329.4 410.6h0M180.3 396.6h0M287.6 442.8h0M233.4 384.9h0M255.1 394.4h0M224.5 358.3h0M178.7 383.4h0M287.7 403.4h0M260.4 459.7h0M288.1 388.3h0M299.4 435.1h0M242.1 358.3h0M218.3 399.0h0M230.3 413.5h0M216.9 381.6h0M218.0 388.7h0M213.4 352.8h0M294.3 413.3h0M211.1 371.1h0M236.1 361.7h0M222.4 400.2h0M253.3 436.8h0M257.1 365.6h0M198.6 419.9h0M286.4 447.2h0M225.6 333.5h0M261.7 391.6h0M226.1 427.4h0M257.9 329.9h0M268.5 351.6h0M274.1 441.3h0M203.7 423.5h0M282.3 379.4h0M177.9 353.3h0M218.1 404.3h0M252.8 405.2h0M233.8 447.4h0M243.7 391.6h0M202.0 386.5h0M267.0 384.6h0M259.6 365.4h0M256.7 347.5h0M278.8 378.9h0M256.8 382.1h0M311.1 433.5h0M245.2 394.0h0M255.6 382.2h0M231.5 335.7h0M312.0 434.4h0M325.5 415.1h0M291.9 435.4h0M179.1 387.0h0M305.0 403.0h0M328.1 408.5h0M317.4 428.7h0M329.8 407.7h0M238.3 361.2h0M212.8 410.0h0M227.1 348.1h0M281.5 415.3h0M331.2 404.4h0M221.1 388.7h0M263.1 380.7h0M270.5 343.0h0M280.1 371.1h0M213.9 380.8h0M195.4 374.2h0M300.2 394.0h0M216.5 391.7h0M265.6 348.1h0M300.9 409.1h0M250.2 374.1h0M187.0 347.6h0M245.1 396.9h0M241.4 409.4h0M184.4 380.8h0M187.3 367.3h0M195.0 353.2h0M242.6 368.6h0M217.5 432.4h0M248.8 363.2h0M249.6 355.1h0M242.7 353.2h0M249.9 380.8h0M249.8 364.9h0M241.1 412.9h0M223.9 421.5h0M282.7 412.5h0M243.5 428.3h0M275.8 339.7h0M270.8 437.3h0M239.4 399.7h0M300.1 425.1h0M216.6 418.4h0M228.6 421.9h0M220.3 396.0h0M321.7 411.6h0M199.2 402.2h0M268.6 458.7h0M224.6 416.2h0M220.2 362.0h0M179.4 364.7h0M199.7 354.4h0M255.5 416.8h0M309.5 443.5h0M290.6 417.4h0M253.0 354.8h0M308.4 396.4h0M211.9 404.5h0M247.4 373.9h0M325.2 413.8h0M233.5 418.6h0M212.5 363.0h0M182.6 361.2h0M273.6 443.9h0M220.0 412.2h0M228.2 379.8h0M267.3 361.6h0M216.1 351.3h0M178.1 354.2h0M259.2 354.5h0M298.8 405.0h0M243.0 367.2h0M252.1 389.7h0M304.5 448.8h0M179.0 352.7h0M305.8 404.6h0M312.3 414.9h0M240.5 393.6h0M264.4 387.5h0M199.7 367.1h0M193.5 395.2h0M246.7 427.7h0M322.8 413.4h0M248.6 392.1h0M270.0 406.4h0M211.4 410.5h0M308.7 421.5h0M202.2 380.8h0M205.6 407.0h0M267.6 366.0h0M216.7 420.0h0M285.0 405.8h0M185.0 383.8h0M236.2 357.4h0M272.4 452.4h0M257.3 385.0h0M267.9 342.6h0M206.4 379.8h0M276.8 425.0h0M273.9 452.7h0M193.8 350.4h0M203.0 390.8h0M199.9 396.1h0M238.9 380.9h0M276.1 335.2h0M271.6 367.5h0M238.2 418.9h0M291.1 451.4h0M222.0 351.4h0M303.8 417.5h0M205.8 367.7h0M274.5 459.6h0M269.9 448.4h0M312.8 410.4h0M198.9 369.4h0M185.6 406.0h0M228.2 402.4h0M248.7 443.1h0M218.4 363.2h0M207.9 394.3h0M175.7 357.1h0M213.5 382.0h0M244.3 355.4h0M226.6 424.3h0M208.6 404.0h0M181.2 371.1h0M295.0 396.8h0M250.6 437.8h0M265.1 442.9h0M193.9 408.1h0M274.2 437.7h0M195.1 412.9h0M270.7 444.0h0M302.2 406.6h0M177.2 381.2h0M273.9 386.6h0M274.8 414.6h0M250.0 386.0h0M254.6 368.5h0M183.0 368.7h0M199.8 372.6h0M223.7 363.6h0M321.2 425.5h0M248.4 402.1h0M282.1 380.2h0M182.8 401.9h0M209.5 408.3h0M276.6 355.9h0M182.1 385.7h0M264.8 458.2h0M216.1 393.5h0M203.0 424.7h0M230.5 372.1h0M256.6 408.5h0M290.4 401.0h0M301.4 402.7h0M242.6 363.3h0M233.1 361.0h0M306.3 413.7h0M238.6 408.2h0M225.0 365.3h0M198.7 407.5h0M233.2 380.7h0M223.0 372.8h0M280.0 434.2h0M249.6 401.1h0M181.1 372.2h0M190.6 370.5h0M299.5 408.7h0M302.7 412.6h0M262.2 371.0h0M292.1 415.8h0M304.5 437.9h0M226.1 375.1h0M229.7 441.2h0M175.6 392.8h0M219.1 428.7h0M217.5 413.6h0M262.6 398.3h0M299.2 436.7h0M293.3 429.9h0M250.2 379.8h0M249.9 415.2h0M228.8 395.9h0M182.8 366.7h0M227.2 363.7h0M197.8 399.7h0M237.9 332.5h0M213.2 421.4h0M227.0 428.7h0M225.0 377.2h0M252.6 432.8h0M273.8 459.7h0M195.2 353.0h0M312.8 414.4h0M222.2 351.3h0M215.6 422.6h0M183.7 370.8h0M240.9 395.6h0M178.2 413.4h0M255.8 365.2h0M183.9 352.0h0M248.0 389.2h0M266.5 384.0h0M305.1 439.6h0M294.2 413.3h0M262.7 397.9h0M309.5 443.2h0M298.5 403.9h0M253.2 364.8h0M202.3 395.3h0M212.2 423.0h0M188.7 419.1h0M253.9 358.8h0M195.7 376.2h0M230.0 370.5h0M246.6 400.7h0M215.4 378.5h0" stroke="#1fd2cf" stroke-width="1.4" stroke-linecap="square" fill="none"/><path d="M274.7 360.6h0M295.0 440.4h0M304.2 449.7h0M252.8 425.2h0M258.8 347.9h0M313.1 441.7h0M295.2 439.6h0M248.6 413.6h0M322.7 421.4h0M286.8 392.9h0M176.0 368.4h0M243.5 416.8h0M317.4 402.7h0M275.9 361.4h0M187.1 411.7h0M286.9 451.9h0M274.6 435.1h0M276.0 407.6h0M275.6 362.8h0M311.4 405.3h0M272.5 442.4h0M177.2 356.7h0M220.4 416.0h0M225.4 368.0h0M273.3 372.5h0M207.4 390.1h0M223.1 383.2h0M218.9 390.7h0M301.5 417.7h0M317.2 424.2h0M268.2 405.2h0M211.1 353.0h0M227.8 411.8h0M196.2 420.3h0M261.5 454.2h0M194.5 421.0h0M229.3 429.2h0M243.1 389.2h0M232.6 429.1h0M183.5 403.3h0M256.2 372.0h0M275.2 445.9h0M287.9 439.2h0M183.8 363.7h0M186.4 351.8h0M188.9 361.7h0M246.3 403.9h0M191.2 390.6h0M247.7 435.1h0M239.8 432.6h0M266.1 391.0h0M330.6 416.7h0M208.0 382.1h0M294.3 456.9h0M274.6 381.2h0M197.3 400.3h0M306.5 438.1h0M317.4 414.6h0M255.3 452.0h0M311.1 434.8h0M246.0 444.6h0M299.3 447.2h0M219.9 404.0h0M286.2 458.6h0M199.3 396.3h0M243.7 436.7h0M304.6 396.4h0M199.2 378.3h0M275.3 444.7h0M271.1 408.8h0M246.0 441.0h0M272.2 346.0h0M266.9 370.3h0M307.6 445.4h0M177.9 397.4h0M276.0 452.0h0M221.2 402.4h0M317.7 414.0h0M270.7 345.6h0M181.9 403.0h0M220.1 362.9h0M311.0 439.4h0M274.2 455.8h0M270.7 356.4h0M316.8 420.9h0M179.9 363.4h0M260.2 402.2h0M286.4 394.4h0M247.4 447.9h0M223.4 397.2h0M273.7 405.3h0M275.7 351.8h0M295.4 398.9h0M276.3 393.0h0M222.6 364.3h0M295.6 420.7h0M277.1 366.3h0M178.2 399.9h0M276.2 431.0h0M296.9 401.9h0M265.2 412.2h0M190.2 413.5h0M204.4 419.5h0M279.8 378.5h0M233.6 375.5h0M194.1 391.4h0M265.9 432.6h0M273.4 347.9h0M281.5 383.0h0M247.0 372.4h0M219.7 404.6h0M305.6 434.5h0M246.9 414.9h0M241.0 397.7h0M265.1 394.9h0M204.2 384.3h0M227.0 383.6h0M281.5 442.7h0M324.4 413.2h0M236.3 381.7h0M208.2 383.7h0M220.2 399.3h0M258.1 415.5h0M288.2 399.0h0M258.8 332.7h0M264.2 335.6h0M199.5 414.2h0M277.2 376.1h0M290.4 440.0h0M216.0 430.6h0M196.4 386.3h0M246.3 436.3h0M249.5 428.7h0M283.2 453.6h0M227.3 389.1h0M239.5 429.4h0M254.2 387.0h0M241.4 344.1h0M245.9 414.9h0M303.7 393.4h0M256.0 344.9h0M213.6 430.3h0M213.7 386.4h0M274.2 389.1h0M261.2 400.7h0M279.5 395.4h0M242.7 440.6h0M310.9 429.3h0M265.8 344.0h0M275.6 393.1h0M245.7 342.7h0M289.5 447.7h0M226.8 376.6h0M278.9 426.6h0M307.8 421.7h0M248.8 376.4h0M226.8 438.6h0M266.6 388.3h0M177.1 349.0h0M285.7 437.7h0M204.6 385.8h0M222.7 412.1h0M270.5 399.1h0M293.7 396.2h0M204.8 351.3h0M273.5 459.1h0M278.2 442.7h0M217.2 380.2h0M233.0 398.2h0M179.8 389.2h0M241.3 450.4h0M331.2 414.8h0M238.5 365.3h0M233.3 419.5h0M290.9 440.5h0M235.0 357.1h0M187.6 372.5h0M313.2 406.6h0M276.4 371.0h0M248.9 348.0h0M215.1 390.7h0M229.3 421.3h0M288.5 413.4h0M225.2 333.4h0M261.3 427.0h0M255.7 352.1h0M258.3 388.8h0M239.2 438.2h0M246.1 391.5h0M264.5 422.9h0M247.9 414.1h0M222.3 430.8h0M222.9 367.6h0M264.5 456.7h0M246.8 403.1h0M255.5 373.3h0M275.2 423.1h0M240.2 426.5h0M252.1 347.9h0M295.3 443.7h0M283.4 454.9h0M255.7 386.8h0M181.7 403.7h0M258.6 378.5h0M281.1 412.1h0M250.1 454.5h0M251.7 425.2h0M295.3 425.3h0M277.2 407.3h0M235.1 422.9h0M181.7 371.0h0M278.5 341.2h0M312.4 440.7h0M209.3 425.8h0M295.6 427.7h0M296.6 409.3h0M248.4 407.4h0M271.6 456.7h0M273.8 404.5h0M266.8 421.5h0M203.0 412.2h0M210.8 348.4h0M295.7 393.5h0M298.8 439.7h0M185.8 349.5h0M224.0 437.7h0M177.8 377.1h0M180.1 402.3h0M267.2 388.8h0M254.5 363.4h0M208.8 400.4h0M219.0 405.6h0M262.4 359.1h0M237.6 429.7h0M252.9 409.0h0M258.4 431.0h0M268.1 331.6h0M188.8 374.0h0M211.4 400.5h0M240.8 360.7h0M273.8 436.9h0M244.7 361.1h0M198.0 386.4h0M210.2 398.6h0M203.7 351.1h0M211.6 370.5h0M264.9 407.8h0M211.3 402.0h0M317.6 434.8h0M210.2 354.2h0M276.2 405.5h0M238.1 362.5h0M178.2 376.7h0M298.6 430.2h0M203.7 371.9h0M256.9 435.2h0M324.2 421.7h0M296.7 416.0h0M272.7 411.2h0M262.8 456.8h0M206.5 385.2h0M292.3 407.2h0M209.6 404.4h0M193.6 415.9h0M190.4 403.9h0M275.7 385.9h0M246.6 435.9h0M254.9 448.4h0M271.5 449.0h0M223.1 403.6h0M190.7 405.6h0M332.0 421.7h0M217.8 396.5h0M287.6 436.2h0M302.2 423.4h0M255.9 456.6h0M188.9 407.8h0M250.7 432.0h0M208.0 399.0h0M226.9 371.2h0M281.0 458.8h0M276.2 363.1h0M273.4 403.6h0M219.4 388.3h0M301.8 420.2h0M221.5 377.0h0M282.4 454.4h0M235.5 338.2h0M244.3 439.7h0M270.6 345.3h0M249.7 344.9h0M312.0 415.3h0M226.7 386.4h0M230.5 373.5h0M193.8 375.2h0M292.3 423.5h0M183.4 392.3h0M296.6 411.4h0M255.3 389.3h0M232.6 355.9h0M218.5 429.4h0M190.9 373.2h0M196.1 365.1h0M233.6 432.3h0M268.2 366.7h0M309.0 431.0h0M186.6 396.4h0M321.7 430.7h0M229.9 375.0h0M331.4 406.4h0M207.2 370.1h0M257.0 426.3h0M242.1 383.3h0M263.3 358.5h0M279.2 373.7h0M183.4 415.6h0M256.4 386.1h0M213.3 432.8h0M229.7 374.0h0M266.3 419.9h0M227.4 394.9h0M263.7 444.4h0M209.5 404.7h0M277.7 447.1h0M271.9 445.9h0M219.4 365.7h0M329.7 407.9h0M282.7 406.1h0M191.7 363.9h0M252.0 433.7h0M233.4 433.6h0M295.0 401.2h0M180.2 362.3h0M272.0 416.9h0M277.4 367.1h0M303.3 412.5h0M209.2 386.7h0M232.0 381.0h0M281.6 460.5h0M295.5 456.0h0M304.2 417.9h0M269.2 454.9h0M179.6 376.5h0M212.1 417.8h0M246.1 441.6h0M227.8 353.2h0M283.1 433.1h0M222.3 369.0h0M296.5 436.8h0M286.6 442.5h0M291.1 436.4h0M314.7 426.8h0M200.8 410.7h0M290.1 393.1h0M248.1 370.8h0M293.8 458.1h0M272.2 371.0h0M179.1 365.2h0M214.6 424.4h0M300.8 411.0h0M252.3 372.6h0M266.3 416.0h0M260.4 438.2h0M238.8 446.7h0M279.6 415.1h0M204.6 396.2h0M286.8 429.6h0M255.7 376.9h0M303.5 443.4h0M196.1 364.3h0M286.7 387.6h0M256.2 370.4h0M256.5 344.4h0M251.2 427.4h0M296.9 404.2h0M207.6 365.5h0M179.0 379.2h0M269.5 409.1h0M236.0 425.6h0M263.5 451.8h0M309.0 403.0h0M247.9 439.2h0M264.4 399.9h0M278.7 453.5h0M254.0 366.7h0M258.8 349.2h0M202.7 352.2h0M221.3 395.7h0M280.3 408.9h0M239.4 373.3h0M209.2 426.2h0M196.7 404.1h0M204.8 402.6h0M263.2 386.9h0M302.7 420.9h0M188.8 377.4h0M222.8 383.6h0M216.6 406.8h0M192.7 417.1h0M247.3 440.1h0M217.9 362.7h0M237.9 353.3h0M269.8 397.0h0M194.7 353.2h0M224.9 392.7h0M196.8 373.9h0M264.2 422.5h0M250.5 412.1h0M239.0 417.0h0M256.5 443.3h0M243.0 418.9h0M213.9 430.1h0M257.2 353.0h0M238.1 393.2h0M299.6 410.7h0M228.8 372.8h0M218.2 351.7h0M176.5 407.0h0M272.6 399.2h0M214.7 423.7h0M233.3 447.3h0M212.8 396.6h0M323.0 406.5h0M229.5 353.9h0M301.7 409.2h0M290.7 446.5h0M178.5 401.6h0M265.5 386.0h0M268.2 452.1h0M320.0 428.8h0M260.6 373.2h0M254.4 438.4h0M264.7 374.4h0M267.5 390.7h0M250.3 347.7h0M219.8 393.1h0M280.6 362.4h0M220.4 391.5h0M268.7 396.0h0M254.0 444.3h0M242.2 369.8h0M270.3 390.0h0M274.3 388.0h0M218.2 365.2h0M293.4 437.7h0M192.9 356.0h0M209.7 422.7h0M180.3 389.9h0M177.6 368.1h0M281.9 427.9h0M232.6 432.1h0M311.1 437.9h0M264.9 376.2h0M252.9 339.3h0M313.7 402.0h0M265.4 353.0h0M245.9 431.2h0M178.2 372.7h0M215.6 403.0h0M286.6 420.7h0M216.8 428.8h0M259.8 349.1h0M244.9 451.4h0M232.7 420.8h0M293.4 419.2h0M285.1 444.5h0M296.6 416.8h0M195.1 388.8h0M202.3 378.8h0M232.9 362.8h0M269.3 350.6h0M244.3 448.4h0M292.9 416.9h0M178.6 388.8h0M325.7 405.3h0M186.0 380.6h0M251.9 398.3h0M234.2 438.7h0M241.7 357.3h0M181.4 410.7h0M183.2 349.6h0M302.3 429.2h0M236.5 355.9h0M226.7 351.2h0M329.1 423.4h0M206.2 407.2h0M259.9 394.9h0M313.4 441.5h0M291.0 389.2h0M227.9 357.3h0M236.8 363.4h0M213.5 376.8h0M328.1 405.9h0M260.9 416.1h0M187.9 377.3h0M260.3 332.6h0M213.2 403.8h0M204.2 351.9h0M253.9 431.3h0M254.8 454.6h0M224.9 406.7h0M256.9 407.2h0M287.2 433.8h0M219.1 432.8h0M267.4 414.9h0M209.4 412.9h0M215.5 430.3h0M296.6 409.8h0M226.9 348.7h0M200.5 405.6h0M178.6 361.7h0M176.2 389.2h0M287.0 439.5h0M311.3 441.4h0M177.7 356.5h0M209.8 385.0h0M256.6 427.4h0M278.3 379.1h0M251.4 424.3h0M234.3 406.3h0M281.0 420.6h0M301.8 443.6h0M268.0 410.1h0M261.4 407.3h0M244.1 330.4h0M255.5 415.1h0M203.8 380.4h0M204.2 411.1h0M260.9 347.9h0M187.8 416.1h0M265.9 417.1h0M329.7 420.6h0M193.7 374.7h0M209.8 430.8h0M209.0 359.3h0M202.3 371.4h0M182.9 395.3h0M247.1 352.4h0M227.1 416.2h0M222.5 439.5h0M284.3 459.7h0M284.8 413.5h0M236.7 432.6h0M310.3 429.6h0M311.1 420.2h0M248.3 337.8h0M201.8 362.7h0M207.5 417.1h0M251.1 385.1h0M306.8 428.3h0M214.6 412.1h0M247.2 399.7h0M211.3 418.6h0M235.7 446.5h0M242.1 439.6h0M205.6 410.9h0M182.6 427.2h0M201.6 445.0h0M310.1 361.7h0M191.6 338.0h0M209.4 462.8h0M307.4 307.7h0M197.5 461.2h0M200.1 342.6h0M219.5 321.8h0M186.7 451.8h0M196.8 463.7h0M177.5 431.3h0" stroke="#1fd2cf" stroke-width="1.9" stroke-linecap="square" fill="none"/><rect x="346.4" y="303.8" width="163.7" height="162.6" fill="#000"/><path d="M424.1 410.6h0M459.5 401.5h0M358.6 415.4h0M412.6 440.7h0M364.8 372.6h0M397.6 404.8h0M412.0 371.9h0M424.4 366.3h0M506.2 411.6h0M405.8 415.9h0M405.9 386.9h0M431.4 339.9h0M410.0 429.2h0M352.4 348.7h0M421.6 337.7h0M425.1 459.1h0M377.4 425.4h0M402.4 343.1h0M353.0 404.4h0M482.6 407.7h0M432.7 381.4h0M430.7 416.9h0M381.4 350.1h0M458.3 416.6h0M438.1 405.3h0M414.8 399.4h0M475.6 398.1h0M406.7 423.4h0M434.0 432.0h0M362.5 361.2h0M499.3 415.8h0M433.9 417.7h0M386.6 369.9h0M470.8 411.0h0M426.3 375.9h0M347.7 362.4h0M379.4 374.1h0M422.5 402.4h0M434.5 427.5h0M456.6 411.6h0M437.1 414.4h0M428.2 362.4h0M435.5 344.7h0M410.1 445.7h0M451.3 440.7h0M447.5 346.6h0M408.6 366.3h0M458.5 390.9h0M432.8 409.7h0M429.1 407.1h0M450.2 366.9h0M431.0 420.0h0M486.4 416.0h0M412.8 402.5h0M347.8 344.3h0M458.6 403.9h0M415.7 392.1h0M445.7 458.6h0M471.7 455.5h0M444.6 412.5h0M383.8 382.2h0M481.6 426.9h0M408.9 443.9h0M434.1 362.6h0M409.5 403.3h0M435.0 458.5h0M387.7 371.8h0M467.1 406.5h0M436.1 400.6h0M408.3 354.1h0M428.7 378.5h0M411.8 337.1h0M411.4 387.6h0M358.5 412.9h0M387.4 435.4h0M450.9 407.3h0M421.4 456.1h0M432.5 421.9h0M454.8 403.9h0M404.6 353.6h0M492.1 432.2h0M415.3 354.9h0M408.6 383.5h0M432.9 363.4h0M495.5 428.2h0M433.8 451.1h0M483.5 440.2h0M427.3 362.2h0M431.9 395.1h0M435.5 441.4h0M473.6 413.9h0M392.6 396.3h0M469.4 437.7h0M393.1 426.6h0M448.3 362.0h0M426.6 371.2h0M439.1 391.4h0M454.7 418.6h0M416.9 436.9h0M418.0 451.9h0M490.7 411.1h0M424.8 449.4h0M430.6 413.2h0M473.5 418.6h0M484.8 414.0h0M374.0 380.4h0M458.4 387.8h0M496.0 409.4h0M370.0 391.8h0M399.5 399.2h0M384.6 422.5h0M446.1 416.5h0M427.5 451.5h0M391.5 393.0h0M490.2 412.6h0M417.6 444.0h0M369.4 352.4h0M418.2 453.5h0M389.5 421.0h0M443.8 424.5h0M499.1 414.2h0M460.4 410.2h0M372.1 376.2h0M468.3 438.1h0M395.2 422.0h0M347.4 378.9h0M397.1 359.6h0M415.8 347.1h0M479.6 423.8h0M458.5 421.3h0M504.8 405.0h0M404.1 381.5h0M375.6 384.6h0M356.6 380.8h0M466.6 428.6h0M415.5 371.2h0M507.3 413.6h0M441.3 409.1h0M486.1 397.8h0M412.7 405.9h0M400.4 420.8h0M425.2 389.3h0M376.3 404.5h0M438.0 447.1h0M383.0 400.8h0M427.7 414.7h0M388.4 420.0h0M420.4 405.7h0M454.0 416.8h0M451.0 418.4h0M434.1 391.8h0M366.6 366.2h0M409.3 332.4h0M456.0 407.4h0M437.7 415.3h0M380.4 383.2h0M473.7 443.1h0M448.9 391.7h0M409.2 438.9h0M385.7 385.3h0M430.6 409.0h0M419.4 401.6h0M443.2 405.0h0M438.6 433.9h0M363.4 377.7h0M415.0 427.8h0M365.6 352.0h0M395.6 420.4h0M369.5 416.2h0M475.9 425.0h0M441.4 459.7h0M425.1 413.6h0M457.7 442.3h0M440.8 425.8h0M421.3 431.1h0M468.2 401.1h0M480.5 436.5h0M440.7 356.6h0M446.8 403.5h0M419.4 359.7h0M367.8 409.2h0M447.8 355.6h0M383.2 394.5h0M392.3 376.0h0M444.2 410.7h0M368.3 384.4h0M489.0 422.0h0M481.4 397.1h0M471.0 450.7h0M430.8 414.8h0M483.2 414.9h0M347.1 372.9h0M429.9 358.9h0M398.1 411.3h0M402.8 409.6h0M431.9 422.5h0M479.1 405.5h0M481.6 399.8h0M348.3 394.7h0M414.0 419.8h0M453.2 450.6h0M422.4 406.0h0M428.5 372.6h0M462.4 390.2h0M473.8 404.7h0M438.6 412.5h0M482.3 424.3h0M394.2 411.3h0M402.2 352.2h0M427.3 444.6h0M402.6 439.6h0M420.3 442.4h0M493.8 425.1h0M358.4 365.9h0M396.7 406.2h0M437.3 425.7h0M456.1 415.4h0" stroke="#d21fd2" stroke-width="1.4" stroke-linecap="square" fill="none"/><path d="M427.6 387.3h0M399.4 383.6h0M433.0 445.7h0M367.6 402.5h0M390.8 367.7h0M425.0 416.2h0M462.2 405.3h0M403.8 439.8h0M481.5 423.1h0M447.3 440.8h0M374.6 367.0h0M397.8 393.0h0M450.3 364.6h0M485.7 424.4h0M388.9 386.6h0M470.9 411.4h0M435.9 387.3h0M475.2 438.1h0M396.5 387.1h0M470.1 408.8h0M388.2 423.1h0M421.9 377.4h0M357.8 390.7h0M419.0 426.6h0M355.3 408.9h0M399.5 426.0h0M389.9 379.5h0M451.0 425.3h0M432.3 423.9h0M449.5 414.3h0M408.0 448.3h0M441.0 382.5h0M357.3 358.0h0M474.5 395.5h0M392.0 367.6h0M449.4 451.8h0M432.4 329.2h0M474.3 417.6h0M369.3 398.0h0M351.6 404.5h0M379.3 420.0h0M439.5 442.7h0M378.7 389.9h0M416.1 412.1h0M390.9 349.4h0M402.3 422.2h0M477.0 428.6h0M411.3 394.0h0M387.6 372.3h0M388.3 393.7h0M382.3 408.9h0M415.3 404.1h0M500.6 406.9h0M350.4 361.2h0M419.7 455.7h0M469.7 441.5h0M467.4 422.4h0M406.1 441.7h0M442.0 457.8h0M407.3 395.0h0M385.3 391.5h0M362.6 362.3h0M438.3 389.3h0M406.3 440.9h0M432.9 426.9h0M418.7 409.5h0M451.6 371.9h0M417.7 444.8h0M369.9 395.3h0M473.3 447.6h0M381.2 385.0h0M436.4 459.3h0M408.6 445.4h0M414.5 436.2h0M400.8 442.8h0M440.4 390.2h0M368.2 418.0h0M399.5 430.9h0M496.4 420.5h0M485.0 400.5h0M400.4 331.7h0M462.3 435.6h0M457.6 401.1h0M444.9 450.5h0M455.9 453.9h0M393.5 376.8h0M422.6 448.6h0M363.2 365.7h0M405.4 367.2h0M369.6 349.1h0M436.5 419.8h0M428.2 435.3h0M371.8 416.5h0M445.4 406.7h0M385.5 410.5h0M383.7 372.6h0M424.1 427.1h0M407.5 395.6h0M375.4 347.0h0M443.1 447.6h0M410.1 430.9h0M463.4 421.6h0M358.0 352.6h0M468.0 441.0h0M441.0 391.3h0M477.3 428.8h0M474.4 412.4h0M407.8 332.3h0M429.1 445.2h0M430.5 341.5h0M367.8 345.5h0M404.8 418.7h0M378.6 402.8h0M494.7 402.7h0M449.0 449.6h0M398.9 401.8h0M463.5 399.2h0M407.7 450.1h0M437.2 452.9h0M394.0 419.5h0M354.8 410.6h0M370.6 397.9h0M501.8 408.8h0M445.3 416.8h0M419.6 453.4h0M387.8 415.0h0M402.2 350.8h0M367.5 359.8h0M379.8 366.9h0M442.9 405.6h0M444.7 329.6h0M438.4 340.8h0M486.5 403.6h0M455.2 431.4h0M423.5 437.1h0M361.0 377.4h0M475.2 396.4h0M419.9 423.0h0M369.2 415.6h0M446.9 340.6h0M381.1 376.6h0M397.4 401.1h0M502.7 408.7h0M399.1 436.3h0M405.0 407.5h0M434.3 343.7h0M491.7 406.4h0M411.7 397.3h0M478.0 427.9h0M440.6 455.5h0M378.6 417.1h0M403.6 358.2h0M468.3 454.7h0M459.0 438.2h0M450.0 352.7h0M359.4 392.7h0M416.1 408.6h0M472.3 416.4h0M446.4 370.4h0M460.0 443.1h0M370.6 412.1h0M426.5 329.6h0M425.9 336.9h0M502.8 402.9h0M497.5 449.0h0M351.0 419.8h0M507.7 347.9h0M506.0 386.5h0M489.8 378.2h0M410.0 314.3h0M494.0 448.8h0M458.1 461.8h0M460.8 349.4h0M474.9 344.0h0M501.8 390.2h0M479.9 458.2h0M482.4 330.6h0M420.2 320.8h0" stroke="#d21fd2" stroke-width="1.9" stroke-linecap="square" fill="none"/><rect x="516.7" y="303.8" width="163.7" height="162.6" fill="#000"/><path d="M559.1 415.2h0M553.6 423.1h0M603.7 338.6h0M587.3 439.9h0M519.1 348.6h0M659.3 435.4h0M652.0 424.8h0M640.3 395.5h0M576.3 373.6h0M629.8 393.9h0M538.8 413.8h0M602.3 345.0h0M615.8 368.1h0M597.1 342.1h0M548.5 363.3h0M623.3 458.8h0M634.4 455.4h0M653.9 407.6h0M584.4 444.9h0M617.7 398.2h0M575.5 422.1h0M622.0 394.2h0M523.1 375.2h0M529.4 380.2h0M571.5 384.5h0M601.3 380.9h0M598.8 451.7h0M559.0 415.0h0M559.0 399.4h0M556.7 350.5h0M640.8 401.3h0M595.4 393.9h0M564.1 374.5h0M566.4 366.9h0M537.7 362.5h0M523.8 390.7h0M541.2 381.6h0M573.2 434.1h0M634.3 412.1h0M601.8 453.4h0M610.5 404.6h0M539.2 390.6h0M633.9 444.6h0M618.5 439.2h0M564.2 427.6h0M521.5 345.9h0M559.5 378.7h0M604.6 335.3h0M598.0 388.5h0M551.8 424.9h0M598.7 454.3h0M596.3 402.6h0M590.3 427.3h0M666.3 424.1h0M650.4 438.9h0M634.7 412.2h0M635.6 400.7h0M621.7 402.9h0M643.6 446.2h0M572.1 413.1h0M529.4 381.5h0M650.0 431.3h0M590.0 370.5h0M580.0 338.3h0M609.3 447.4h0M632.7 417.6h0M525.5 404.7h0M602.0 430.9h0M585.7 343.6h0M611.5 393.8h0M562.6 420.1h0M558.3 435.1h0M632.0 397.3h0M571.0 362.9h0M585.7 326.4h0M601.9 343.4h0M576.0 425.9h0M608.9 406.2h0M647.4 401.2h0M597.2 393.4h0M618.1 365.0h0M586.9 350.5h0M582.3 439.3h0M608.1 431.0h0M604.5 425.7h0M638.4 448.6h0M607.6 334.4h0M587.8 384.9h0M591.8 441.7h0M582.6 434.3h0M609.0 372.5h0M635.2 403.2h0M590.0 455.9h0M647.3 407.7h0M549.8 422.6h0M646.6 420.8h0M674.1 412.0h0M615.5 344.2h0M535.8 420.9h0M619.0 420.7h0M540.1 406.0h0M556.1 388.8h0M633.1 396.7h0M544.5 404.3h0M567.3 377.1h0M534.2 375.7h0M626.5 436.4h0M552.3 348.6h0M648.8 401.6h0M644.6 398.1h0M556.2 375.4h0M534.6 363.1h0M625.4 449.9h0M609.9 446.7h0M634.0 459.5h0M662.0 427.9h0M659.7 400.5h0M542.1 397.1h0M612.2 415.4h0M611.3 366.2h0M594.0 414.8h0M528.3 403.3h0M536.7 404.1h0M570.5 433.4h0M541.8 425.8h0M652.7 440.6h0M589.1 351.7h0M527.3 372.7h0M550.5 358.0h0M531.6 410.3h0M547.8 387.4h0M628.2 460.5h0M585.7 368.6h0M584.4 332.8h0M652.6 404.1h0M574.9 398.0h0M601.3 457.3h0M596.8 388.3h0M609.4 443.9h0M588.5 363.4h0M563.3 440.0h0M578.0 350.5h0M546.6 355.0h0M623.3 454.8h0M564.7 399.2h0M531.3 397.0h0M574.2 371.3h0M584.5 331.7h0M605.4 374.0h0M585.9 403.2h0M595.2 401.8h0M657.3 422.7h0M576.5 429.3h0M615.3 445.6h0M584.6 355.3h0M550.9 372.7h0M656.8 427.2h0M580.2 409.4h0M595.3 386.1h0M586.2 393.4h0M556.1 431.3h0M599.5 351.7h0M636.8 398.1h0M580.4 446.5h0M596.2 430.9h0M602.1 327.0h0M620.5 404.9h0M551.0 395.1h0M618.0 459.3h0M618.4 416.8h0M622.3 418.1h0M520.9 399.5h0M601.6 332.1h0M573.8 379.1h0M608.6 399.2h0M617.7 452.8h0M626.9 443.4h0M629.7 388.9h0M552.7 379.8h0M556.3 375.8h0M564.8 412.6h0M584.2 407.6h0M600.4 411.8h0M622.7 377.2h0M643.6 409.6h0M593.2 409.2h0M580.9 364.5h0M613.9 448.7h0" stroke="#1fd21f" stroke-width="1.4" stroke-linecap="square" fill="none"/><path d="M532.3 393.4h0M591.5 378.3h0M567.2 358.1h0M616.1 332.9h0M545.6 397.7h0M545.9 385.4h0M598.5 354.9h0M557.5 413.4h0M627.4 457.4h0M552.2 393.9h0M598.1 458.3h0M558.1 364.1h0M622.6 385.6h0M573.3 445.2h0M626.9 454.6h0M593.1 397.8h0M558.1 382.0h0M562.7 422.9h0M541.3 404.9h0M615.5 392.4h0M540.4 365.6h0M566.3 438.3h0M607.7 381.7h0M594.0 446.4h0M542.2 395.6h0M595.6 458.2h0M609.5 448.8h0M560.4 402.2h0M623.6 427.8h0M618.3 447.5h0M592.9 359.8h0M612.4 355.0h0M599.6 422.2h0M592.0 409.6h0M666.3 414.8h0M519.1 402.8h0M543.3 424.5h0M550.8 368.1h0M548.2 367.7h0M623.8 447.9h0M621.7 416.0h0M576.9 375.8h0M603.3 326.3h0M642.9 449.4h0M552.7 399.3h0M612.0 391.8h0M598.9 425.3h0M577.1 376.8h0M524.1 401.9h0M648.4 413.6h0M566.9 398.3h0M586.6 434.0h0M590.4 448.9h0M651.2 414.4h0M542.2 359.9h0M541.8 416.9h0M599.4 437.1h0M551.4 425.1h0M613.0 385.3h0M654.1 411.0h0M525.3 369.5h0M621.9 410.7h0M577.8 423.0h0M550.7 397.6h0M646.7 417.9h0M536.4 372.9h0M622.3 425.5h0M591.7 395.2h0M596.0 436.0h0M652.5 405.1h0M553.8 348.7h0M613.5 371.7h0M671.1 412.2h0M538.5 421.8h0M606.7 450.1h0M608.8 432.7h0M595.7 364.6h0M580.9 411.2h0M632.3 460.2h0M525.2 417.5h0M564.5 368.1h0M638.5 413.9h0M588.6 455.8h0M623.8 417.1h0M636.4 426.2h0M581.3 370.6h0M609.5 421.7h0M589.4 392.8h0M641.6 411.7h0M589.1 392.8h0M600.7 387.0h0M611.8 443.0h0M610.4 376.9h0M561.0 390.2h0M535.0 399.1h0M643.6 438.5h0M642.4 415.6h0M612.0 460.2h0M585.0 359.7h0M649.3 424.8h0M565.0 394.0h0M644.7 433.8h0M525.2 377.0h0M594.4 389.9h0M575.3 373.4h0M533.8 416.5h0M615.9 362.7h0M575.4 364.2h0M574.0 371.2h0M558.8 346.1h0M594.3 371.1h0M569.8 338.8h0M576.1 441.0h0M578.9 429.3h0M648.9 414.3h0M586.4 454.5h0M584.2 415.3h0M652.0 425.1h0M666.4 417.5h0M602.6 446.8h0M543.3 386.5h0M588.8 350.0h0M601.2 328.1h0M609.6 451.6h0M629.2 434.4h0M587.0 442.3h0M572.8 412.2h0M543.4 403.1h0M602.5 446.8h0M536.5 386.9h0M561.8 434.4h0M594.9 394.5h0M663.8 405.4h0M614.2 384.7h0M553.4 378.0h0M525.7 401.2h0M655.2 407.5h0M588.4 413.8h0M566.0 406.4h0M613.1 448.1h0M592.1 436.5h0M652.7 395.8h0M670.2 339.5h0M583.2 321.1h0M653.2 395.2h0M615.1 328.9h0M571.8 450.7h0M632.7 347.6h0M664.7 352.9h0M635.7 329.5h0M675.5 333.7h0M541.6 434.7h0M678.7 324.4h0M543.5 438.8h0" stroke="#1fd21f" stroke-width="1.9" stroke-linecap="square" fill="none"/><text transform="translate(9.00 442.50) scale(1.013 1)" font-size="23.3" fill="#fff">100 nm</text><rect x="17.2" y="453.5" width="64" height="4.8" fill="#fff"/><text transform="translate(179.70 442.50) scale(0.990 1)" font-size="23.3" fill="#fff">100 nm</text><rect x="187.6" y="453.5" width="64" height="4.8" fill="#fff"/><text transform="translate(350.70 442.50) scale(0.990 1)" font-size="23.3" fill="#fff">100 nm</text><rect x="358.6" y="453.5" width="64" height="4.8" fill="#fff"/><text transform="translate(521.00 442.50) scale(0.990 1)" font-size="23.3" fill="#fff">100 nm</text><rect x="528.9" y="453.5" width="64" height="4.8" fill="#fff"/><text transform="translate(9.20 328.80) scale(1.090 1)" font-size="21.6" fill="#fff">(c)</text><text transform="translate(334.20 324.20) scale(1.030 1)" font-size="21.3" text-anchor="end" fill="#fff">Ir</text><text transform="translate(506.20 324.20) scale(1.030 1)" font-size="21.3" text-anchor="end" fill="#fff">O</text><text transform="translate(677.40 324.20) scale(1.030 1)" font-size="21.3" text-anchor="end" fill="#fff">S</text></svg></body></html>
